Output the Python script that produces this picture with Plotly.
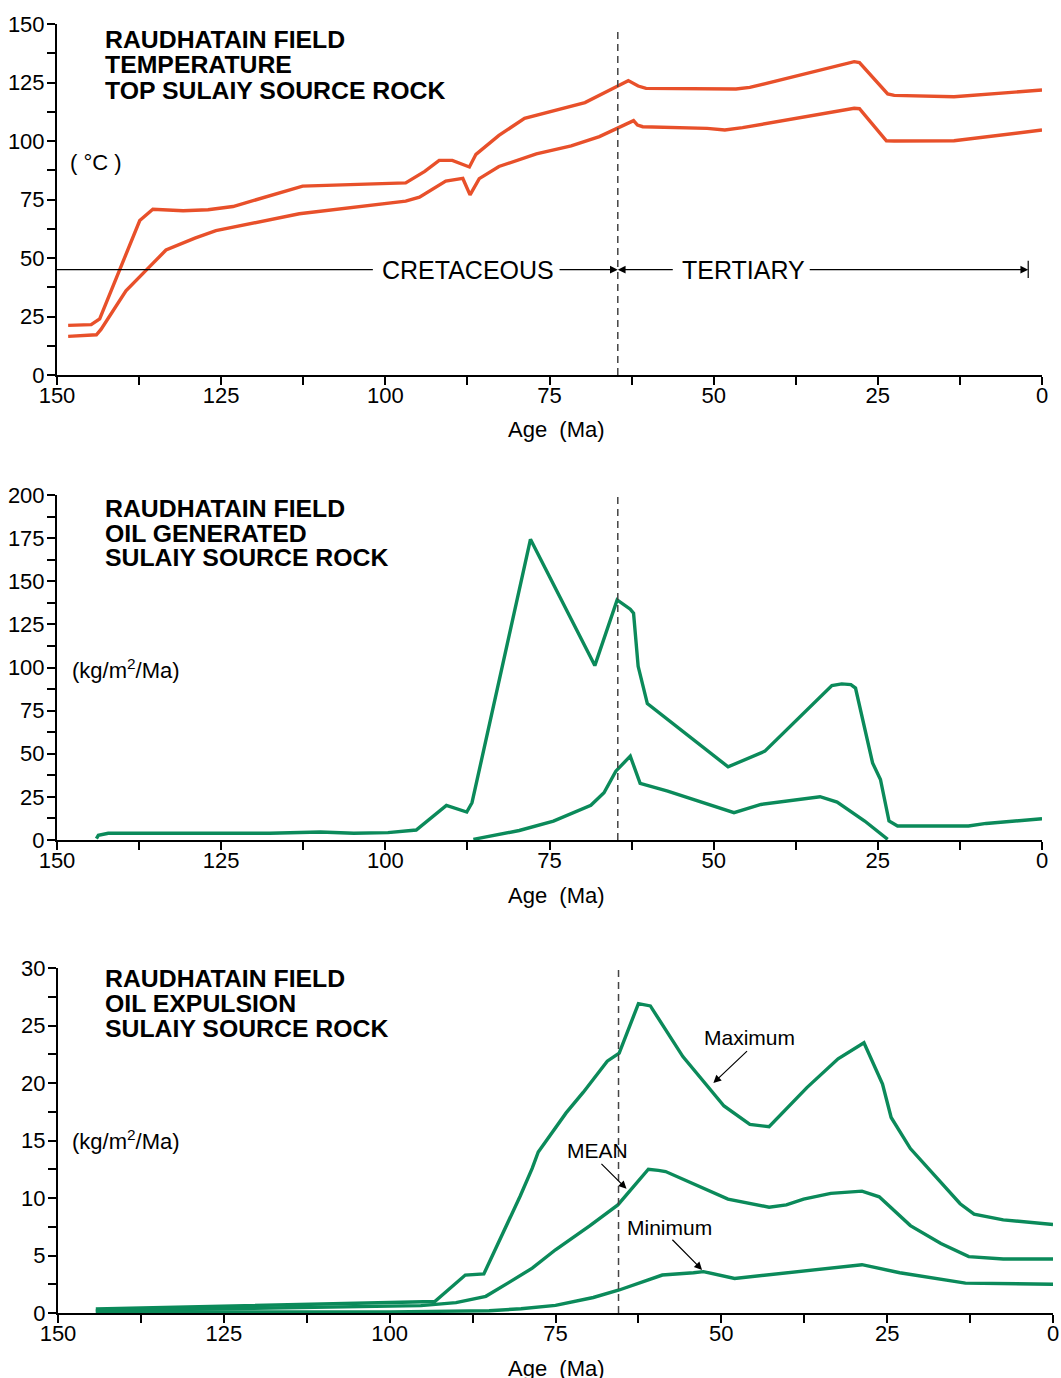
import plotly.graph_objects as go

# ---------------- data ----------------
# Panel 1: temperature, top Sulaiy source rock (two curves)
temp_hi_age = [148.3, 144.8, 143.5, 137.4, 135.4, 133.0, 130.8, 127.0, 123.2, 112.6, 96.9, 94.0,
               91.8, 89.8, 87.2, 86.2, 82.7, 78.8, 69.6, 64.6, 63.0, 61.5, 60.3, 46.6, 44.5,
               28.6, 27.8, 23.5, 22.5, 13.4, 0.0]
temp_hi = [21.2, 21.5, 24.0, 66.0, 70.8, 70.6, 70.2, 70.6, 72.0, 80.7, 82.1, 87.0,
           91.7, 91.7, 88.9, 94.3, 102.4, 109.7, 116.4, 123.5, 125.8, 123.5, 122.5, 122.2, 122.9,
           133.9, 133.5, 120.1, 119.5, 118.9, 121.8]

temp_lo_age = [148.3, 144.0, 143.3, 139.5, 136.0, 133.4, 129.0, 125.8, 113.1, 96.9, 94.8, 90.8,
               88.2, 87.1, 85.7, 82.7, 77.0, 71.7, 67.4, 64.6, 62.2, 61.6, 60.8, 51.0, 48.3,
               45.6, 28.6, 27.8, 23.7, 22.5, 13.4, 0.0]
temp_lo = [16.5, 17.2, 19.5, 36.0, 46.0, 53.4, 58.5, 61.7, 68.9, 74.3, 76.0, 82.9,
           84.0, 77.0, 83.9, 89.1, 94.5, 97.9, 101.9, 105.4, 108.7, 106.8, 106.1, 105.4, 104.7,
           105.7, 114.0, 113.8, 100.1, 100.0, 100.1, 104.7]

# Panel 2: oil generated (two curves)
gen_hi_age = [144.0, 143.7, 142.2, 117.6, 109.9, 104.8, 99.6, 95.3, 90.7, 87.6, 86.8, 77.9,
              68.1, 64.7, 62.7, 62.2, 61.5, 60.1, 47.8, 42.2, 32.0, 30.5, 29.1, 28.4, 25.8,
              24.6, 23.3, 22.0, 11.2, 8.5, 0.0]
gen_hi = [0.8, 2.7, 3.9, 3.9, 4.6, 3.9, 4.3, 5.8, 20.1, 16.2, 21.6, 174.3,
          101.1, 139.2, 133.8, 131.5, 100.7, 79.1, 42.4, 51.5, 89.5, 90.5, 90.1, 88.1, 44.7,
          35.1, 11.0, 8.1, 8.1, 9.6, 12.3]

gen_lo_age = [86.6, 79.6, 74.4, 68.7, 66.7, 64.9, 62.7, 61.2, 57.0, 52.2, 46.9, 42.8, 37.5,
              33.8, 31.2, 27.0, 23.5]
gen_lo = [0.4, 5.5, 11.0, 20.1, 27.4, 39.9, 48.6, 32.8, 28.4, 22.6, 15.8, 20.6, 23.5,
          25.1, 22.0, 11.0, 0.4]

# Panel 3: oil expulsion (maximum, mean, minimum)
exp_max_age = [144.3, 93.2, 88.6, 85.8, 80.3, 78.5, 77.6, 73.4, 70.8, 67.2, 65.4, 62.5, 60.7,
               55.8, 49.6, 45.7, 42.8, 37.1, 32.4, 28.5, 25.7, 24.4, 21.5, 17.4, 14.0, 11.9,
               7.5, 0.0]
exp_max = [0.35, 1.0, 3.3, 3.4, 10.2, 12.6, 14.0, 17.4, 19.2, 21.9, 22.6, 26.9, 26.7,
           22.3, 18.0, 16.4, 16.2, 19.6, 22.1, 23.5, 19.9, 17.0, 14.3, 11.7, 9.5, 8.6,
           8.1, 7.7]

exp_mean_age = [144.3, 95.3, 90.0, 85.5, 82.0, 78.5, 75.0, 69.8, 65.6, 61.0, 59.5, 58.4, 49.0,
                42.8, 40.2, 37.6, 33.5, 28.8, 26.2, 21.5, 16.9, 12.7, 7.5, 0.0]
exp_mean = [0.2, 0.64, 0.9, 1.45, 2.66, 3.9, 5.5, 7.6, 9.4, 12.5, 12.4, 12.3, 9.9,
            9.2, 9.4, 9.9, 10.4, 10.6, 10.1, 7.6, 6.05, 4.9, 4.7, 4.7]

exp_min_age = [144.3, 100.0, 85.0, 80.2, 75.0, 69.3, 65.4, 58.9, 54.2, 52.7, 48.0, 38.7, 28.8,
               23.1, 13.2, 0.0]
exp_min = [0.1, 0.1, 0.2, 0.37, 0.66, 1.35, 2.0, 3.3, 3.5, 3.6, 3.0, 3.6, 4.2,
           3.5, 2.6, 2.5]

boundary_age_12 = 64.6   # K/T boundary as drawn in panels 1-2
boundary_age_3 = 65.5    # as drawn in panel 3

titles_1 = ["RAUDHATAIN FIELD", "TEMPERATURE", "TOP SULAIY SOURCE ROCK"]
titles_2 = ["RAUDHATAIN FIELD", "OIL GENERATED", "SULAIY SOURCE ROCK"]
titles_3 = ["RAUDHATAIN FIELD", "OIL EXPULSION", "SULAIY SOURCE ROCK"]

# ---------------- styling ----------------
W, H = 1061, 1378
FONT = "Liberation Sans, Arial, Helvetica, sans-serif"
ORANGE = "#E8502A"
GREEN = "#0B8A5A"
TICK_SIZE = 22


def px(xp):
    return xp / W


def py(yp):
    return 1 - yp / H


fig = go.Figure()

line_common = dict(width=3.4)
fig.add_trace(go.Scatter(x=temp_hi_age, y=temp_hi, mode="lines", line=dict(color=ORANGE, **line_common),
                         xaxis="x", yaxis="y", showlegend=False))
fig.add_trace(go.Scatter(x=temp_lo_age, y=temp_lo, mode="lines", line=dict(color=ORANGE, **line_common),
                         xaxis="x", yaxis="y", showlegend=False))
fig.add_trace(go.Scatter(x=gen_hi_age, y=gen_hi, mode="lines", line=dict(color=GREEN, **line_common),
                         xaxis="x2", yaxis="y2", showlegend=False))
fig.add_trace(go.Scatter(x=gen_lo_age, y=gen_lo, mode="lines", line=dict(color=GREEN, **line_common),
                         xaxis="x2", yaxis="y2", showlegend=False))
fig.add_trace(go.Scatter(x=exp_max_age, y=exp_max, mode="lines", line=dict(color=GREEN, **line_common),
                         xaxis="x3", yaxis="y3", showlegend=False))
fig.add_trace(go.Scatter(x=exp_mean_age, y=exp_mean, mode="lines", line=dict(color=GREEN, **line_common),
                         xaxis="x3", yaxis="y3", showlegend=False))
fig.add_trace(go.Scatter(x=exp_min_age, y=exp_min, mode="lines", line=dict(color=GREEN, **line_common),
                         xaxis="x3", yaxis="y3", showlegend=False))


def xaxis(domain, anchor):
    return dict(domain=domain, anchor=anchor, range=[150, 0], showline=True, linecolor="black",
                linewidth=2, ticks="outside", ticklen=8, tickwidth=1.5, tickcolor="black",
                tick0=0, dtick=25, showgrid=False, zeroline=False, automargin=False,
                ticklabelstandoff=-8,
                tickfont=dict(family=FONT, size=TICK_SIZE, color="black"),
                minor=dict(dtick=12.5, ticks="outside", ticklen=8, tickwidth=1.5, tickcolor="black",
                           showgrid=False))


def yaxis(domain, anchor, rng, dtick, mdtick):
    return dict(domain=domain, anchor=anchor, range=rng, showline=True, linecolor="black",
                linewidth=2, ticks="outside", ticklen=8, tickwidth=1.5, tickcolor="black",
                tick0=0, dtick=dtick, showgrid=False, zeroline=False, automargin=False,
                ticklabelstandoff=-2,
                tickfont=dict(family=FONT, size=TICK_SIZE, color="black"),
                minor=dict(dtick=mdtick, ticks="outside", ticklen=8, tickwidth=1.5, tickcolor="black",
                           showgrid=False))


fig.update_layout(
    width=W, height=H, margin=dict(l=0, r=0, t=0, b=0, autoexpand=False),
    paper_bgcolor="white", plot_bgcolor="white",
    font=dict(family=FONT, color="black"),
    xaxis=xaxis([px(57), px(1042)], "y"),
    yaxis=yaxis([py(375), py(24)], "x", [0, 150], 25, 12.5),
    xaxis2=xaxis([px(57), px(1042)], "y2"),
    yaxis2=yaxis([py(840), py(495)], "x2", [0, 200], 25, 12.5),
    xaxis3=xaxis([px(58), px(1053)], "y3"),
    yaxis3=yaxis([py(1313), py(968)], "x3", [0, 30], 5, 2.5),
)

shapes = []
annotations = []

# dashed boundary lines
dash = dict(color="#444444", width=1.5, dash="7px,5px")
shapes.append(dict(type="line", xref="x", yref="y", x0=boundary_age_12, x1=boundary_age_12,
                   y0=0, y1=148.5, line=dash))
shapes.append(dict(type="line", xref="x2", yref="y2", x0=boundary_age_12, x1=boundary_age_12,
                   y0=0, y1=201, line=dash))
shapes.append(dict(type="line", xref="x3", yref="y3", x0=boundary_age_3, x1=boundary_age_3,
                   y0=0, y1=30, line=dash))

# Cretaceous / Tertiary arrows (panel 1)
period_y = 45
arr = dict(color="black", width=1.2)
shapes.append(dict(type="line", xref="x", yref="y", x0=150, x1=101.9, y0=period_y, y1=period_y, line=arr))
shapes.append(dict(type="line", xref="x", yref="y", x0=2.1, x1=2.1, y0=41.5, y1=48.8, line=arr))


def arrow(xref, yref, tail, head):
    return dict(xref=xref, yref=yref, axref=xref, ayref=yref, x=head[0], y=head[1],
                ax=tail[0], ay=tail[1], text="", showarrow=True, arrowhead=2, arrowsize=1.3,
                arrowwidth=1.2, arrowcolor="black", standoff=0, startstandoff=0)


annotations.append(arrow("x", "y", (73.7, period_y), (boundary_age_12, period_y)))
annotations.append(arrow("x", "y", (56.0, period_y), (boundary_age_12, period_y)))
annotations.append(arrow("x", "y", (35.6, period_y), (2.1, period_y)))
annotations.append(dict(xref="x", yref="y", x=87.4, y=period_y, text="CRETACEOUS", showarrow=False,
                        xanchor="center", yanchor="middle",
                        font=dict(family=FONT, size=25, color="black")))
annotations.append(dict(xref="x", yref="y", x=45.5, y=period_y, text="TERTIARY", showarrow=False,
                        xanchor="center", yanchor="middle",
                        font=dict(family=FONT, size=25, color="black")))

# Titles
for lines, top in ((titles_1, 40), (titles_2, 508), (titles_3, 978)):
    for i, t in enumerate(lines):
        annotations.append(dict(xref="paper", yref="paper", x=px(103), y=py(top + 25 * i),
                                xanchor="left", yanchor="middle", text="<b>" + t + "</b>",
                                showarrow=False, font=dict(family=FONT, size=24.8, color="black")))

# Units
annotations.append(dict(xref="paper", yref="paper", x=px(96), y=py(163), text="( °C )",
                        xanchor="center", yanchor="middle",
                        showarrow=False, font=dict(family=FONT, size=22, color="black")))
for yp in (669, 1140):
    annotations.append(dict(xref="paper", yref="paper", x=px(126), y=py(yp),
                            xanchor="center", yanchor="middle",
                            text="(kg/m<sup>2</sup>/Ma)", showarrow=False,
                            font=dict(family=FONT, size=22, color="black")))

# Axis titles
for yp in (429, 895, 1368):
    annotations.append(dict(xref="paper", yref="paper", x=px(556), y=py(yp), text="Age  (Ma)",
                            xanchor="center", yanchor="middle",
                            showarrow=False, font=dict(family=FONT, size=22, color="black")))

# Panel 3 curve labels
lab_font = dict(family=FONT, size=21, color="black")
annotations.append(dict(xref="x3", yref="y3", x=45.7, y=24.0, text="Maximum", showarrow=False,
                        xanchor="center", yanchor="middle", font=lab_font))
annotations.append(arrow("x3", "y3", (45.9, 22.9), (51.2, 20.0)))
annotations.append(dict(xref="x3", yref="y3", x=68.7, y=14.1, text="MEAN", showarrow=False,
                        xanchor="center", yanchor="middle", font=lab_font))
annotations.append(arrow("x3", "y3", (68.3, 13.1), (64.3, 10.8)))
annotations.append(dict(xref="x3", yref="y3", x=57.8, y=7.4, text="Minimum", showarrow=False,
                        xanchor="center", yanchor="middle", font=lab_font))
annotations.append(arrow("x3", "y3", (57.6, 6.5), (52.9, 3.75)))

fig.update_layout(shapes=shapes, annotations=annotations)

fig.write_html("out.html", config={"displayModeBar": False},
               post_script="document.body.style.margin='0px';document.body.style.padding='0px';")
